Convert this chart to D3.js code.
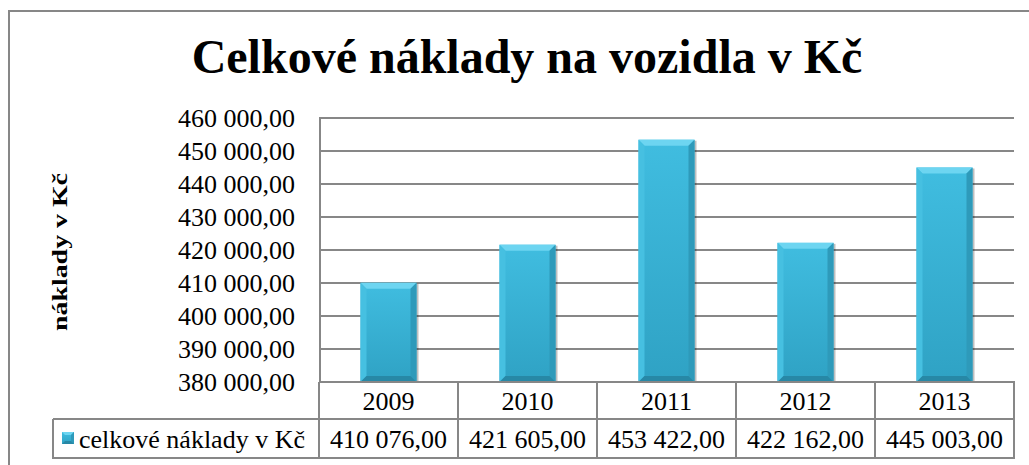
<!DOCTYPE html>
<html><head><meta charset="utf-8">
<script src="https://cdn.jsdelivr.net/npm/d3@7"></script>
<style>html,body{margin:0;padding:0;background:#fff;}svg{display:block;}
svg text{font-family:"Liberation Serif","Times New Roman","DejaVu Serif",serif !important;}</style>
</head><body>
<script>
const categories = ["2009","2010","2011","2012","2013"];
const values = [410076, 421605, 453422, 422162, 445003];
const valueLabels = ["410 076,00","421 605,00","453 422,00","422 162,00","445 003,00"];
const yTicks = [380000,390000,400000,410000,420000,430000,440000,450000,460000];
const seriesName = "celkové náklady v Kč";
const title = "Celkové náklady na vozidla v Kč";
const yTitle = "náklady v Kč";

const W = 1029, H = 465;
const svg = d3.select("body").append("svg").attr("width", W).attr("height", H);

const defs = svg.append("defs");
const g1 = defs.append("linearGradient").attr("id","barg").attr("x1",0).attr("y1",0).attr("x2",0).attr("y2",1);
g1.append("stop").attr("offset","0%").attr("stop-color","#40bde0");
g1.append("stop").attr("offset","100%").attr("stop-color","#2fa2c4");

// outer frame
svg.append("path").attr("d", `M9,${H+5} L9,11 L${W+5},11`).attr("fill","none").attr("stroke","#878787").attr("stroke-width",2);

// title
svg.append("text").attr("x", 527).attr("y", 73).attr("text-anchor","middle")
  .attr("font-weight","bold").attr("font-size", 48).attr("fill","#000").text(title);

const x0 = 319, x1 = 1014, yTop = 118, yBot = 382;
const x = d3.scaleBand().domain(categories).range([x0, x1]).paddingInner(0).paddingOuter(0);
const y = d3.scaleLinear().domain([380000, 460000]).range([yBot, yTop]);

// gridlines
svg.append("g").selectAll("line").data(yTicks).join("line")
  .attr("x1", x0).attr("x2", x1).attr("y1", d => y(d)).attr("y2", d => y(d))
  .attr("stroke","#878787").attr("stroke-width",2);
// left axis line
svg.append("line").attr("x1", x0+1).attr("x2", x0+1).attr("y1", yTop-1).attr("y2", yBot)
  .attr("stroke","#878787").attr("stroke-width",2);

// y tick labels
const yAxis = d3.axisLeft(y).tickValues(yTicks).tickSize(0).tickPadding(0)
  .tickFormat(d => d3.format(",.2f")(d).replace(/,/g," ").replace(".",","));
const ya = svg.append("g").attr("transform", `translate(295,0)`).call(yAxis);
ya.select(".domain").remove();
ya.attr("font-family", null).attr("font-size", null);
ya.selectAll("text").attr("font-size", 26).attr("fill","#000").attr("dy","0.34em");

// y title
svg.append("text").attr("transform", `translate(67,252) rotate(-90)`).attr("text-anchor","middle")
  .attr("font-weight","bold").attr("font-size", 22).attr("fill","#000")
  .attr("textLength", 158).attr("lengthAdjust","spacingAndGlyphs").text(yTitle);

// bars
const bw = 56, bv = 6;
const bars = svg.append("g").selectAll("g").data(values).join("g")
  .attr("transform", (d,i) => `translate(${x(categories[i]) + x.bandwidth()/2 - bw/2},${y(d)})`);
bars.append("rect").attr("x",2).attr("y",1).attr("width",bw).attr("height", d => yBot - y(d) - 1)
  .attr("fill","#000").attr("opacity",0.25);
bars.append("rect").attr("width",bw).attr("height", d => yBot - y(d)).attr("fill","url(#barg)");
bars.append("path").attr("d", `M0,0 L${bw},0 L${bw-bv},${bv} L${bv},${bv} Z`).attr("fill","#6dd5f1");
bars.append("path").attr("d", d => { const h = yBot - y(d); return `M0,0 L${bv},${bv} L${bv},${h-bv} L0,${h} Z`; }).attr("fill","#46c0e1");
bars.append("path").attr("d", d => { const h = yBot - y(d); return `M${bw},0 L${bw},${h} L${bw-bv},${h-bv} L${bw-bv},${bv} Z`; }).attr("fill","#2e9aba");
bars.append("path").attr("d", d => { const h = yBot - y(d); return `M0,${h} L${bv},${h-bv} L${bw-bv},${h-bv} L${bw},${h} Z`; }).attr("fill","#2788a6");

// data table
const r1 = 382, r2 = 419, r3 = 458, lx = 53;
const tb = svg.append("g").attr("stroke","#878787").attr("stroke-width",2);
tb.append("line").attr("x1", x0).attr("x2", x1+1).attr("y1", r1).attr("y2", r1);
tb.append("line").attr("x1", lx).attr("x2", x1+1).attr("y1", r2).attr("y2", r2);
tb.append("line").attr("x1", lx).attr("x2", x1+1).attr("y1", r3).attr("y2", r3);
tb.append("line").attr("x1", lx).attr("x2", lx).attr("y1", r2).attr("y2", r3+1);
const edges = categories.map(c => x(c)).concat([x1]);
tb.selectAll(".v").data(edges).join("line").attr("class","v")
  .attr("x1", d => d).attr("x2", d => d).attr("y1", r1).attr("y2", r3+1);

svg.append("g").selectAll("text").data(categories).join("text")
  .attr("x", d => x(d) + x.bandwidth()/2).attr("y", 410).attr("text-anchor","middle")
  .attr("font-size", 26).attr("fill","#000").text(d => d);
svg.append("g").selectAll("text").data(valueLabels).join("text")
  .attr("x", (d,i) => x(categories[i]) + x.bandwidth()/2).attr("y", 448).attr("text-anchor","middle")
  .attr("font-size", 26).attr("fill","#000").text(d => d);

// legend key
const k = svg.append("g").attr("transform","translate(62,432)");
k.append("rect").attr("width",12).attr("height",12).attr("fill","url(#barg)");
k.append("path").attr("d","M0,0 L12,0 L9,3 L3,3 Z").attr("fill","#6dd5f1");
k.append("path").attr("d","M12,0 L12,12 L9,9 L9,3 Z").attr("fill","#2e9aba");
k.append("path").attr("d","M0,12 L3,9 L9,9 L12,12 Z").attr("fill","#2788a6");
svg.append("text").attr("x", 79).attr("y", 448).attr("font-size", 26).attr("fill","#000").text(seriesName);
</script>
</body></html>
